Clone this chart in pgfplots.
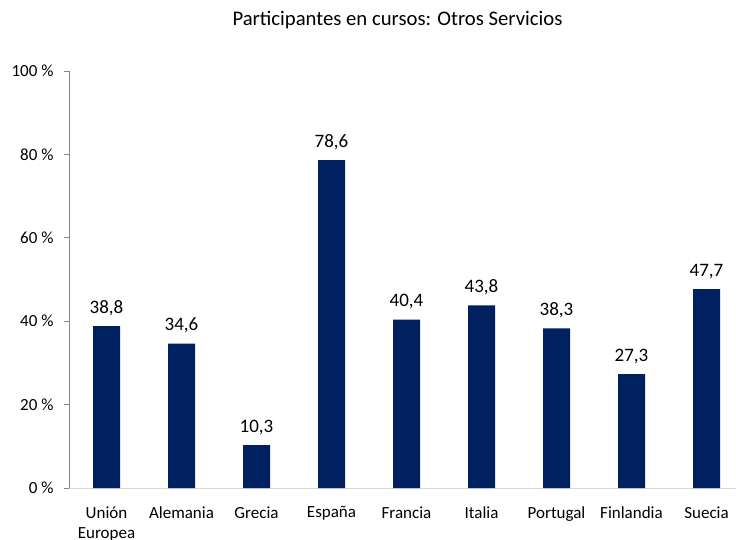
\documentclass[border=0pt]{standalone}
\usepackage{pgfplots}
\pgfplotsset{compat=1.18}
\usepackage{fontspec}
\setmainfont{Carlito}
\definecolor{barblue}{HTML}{002060}
\definecolor{yaxgray}{HTML}{868686}
\definecolor{xaxgray}{HTML}{D9D9D9}
\begin{document}
\begin{tikzpicture}
\path[use as bounding box] (0,0) rectangle (736pt,539pt);
\node[font=\fontsize{20.7}{24}\selectfont] at (397.5pt,519pt) {Participantes en cursos: Otros Servicios};
\begin{axis}[
  at={(69pt,51pt)}, anchor=south west,
  scale only axis, width=667pt, height=417pt,
  xmin=-0.5, xmax=8.393, ymin=0, ymax=100,
  axis x line*=bottom, axis y line*=left,
  x axis line style={draw=xaxgray, line width=1pt, -},
  y axis line style={draw=yaxgray, line width=0.8pt, -},
  xtick=data,
  xticklabels={{Unión\\Europea},Alemania,Grecia,España,Francia,Italia,Portugal,Finlandia,Suecia},
  xticklabel style={align=center, font=\fontsize{17}{20}\selectfont, yshift=-10pt},
  x tick style={draw=none},
  ytick={0,20,40,60,80,100},
  yticklabel={\pgfmathprintnumber{\tick} \%},
  yticklabel style={font=\fontsize{17}{20}\selectfont, xshift=-7pt},
  y tick style={draw=yaxgray, line width=0.8pt},
  tick align=outside, major tick length=5pt,
  /pgf/number format/assume math mode=true,
  ybar, bar width=27pt,
  nodes near coords,
  nodes near coords style={font=\fontsize{19}{22}\selectfont, yshift=7pt,
    /pgf/number format/fixed, /pgf/number format/fixed zerofill,
    /pgf/number format/precision=1, /pgf/number format/use comma,
    /pgf/number format/assume math mode=true},
  clip=false,
]
\addplot[fill=barblue, draw=none] coordinates {(0,38.8) (1,34.6) (2,10.3) (3,78.6) (4,40.4) (5,43.8) (6,38.3) (7,27.3) (8,47.7)};
\end{axis}
\end{tikzpicture}
\end{document}
